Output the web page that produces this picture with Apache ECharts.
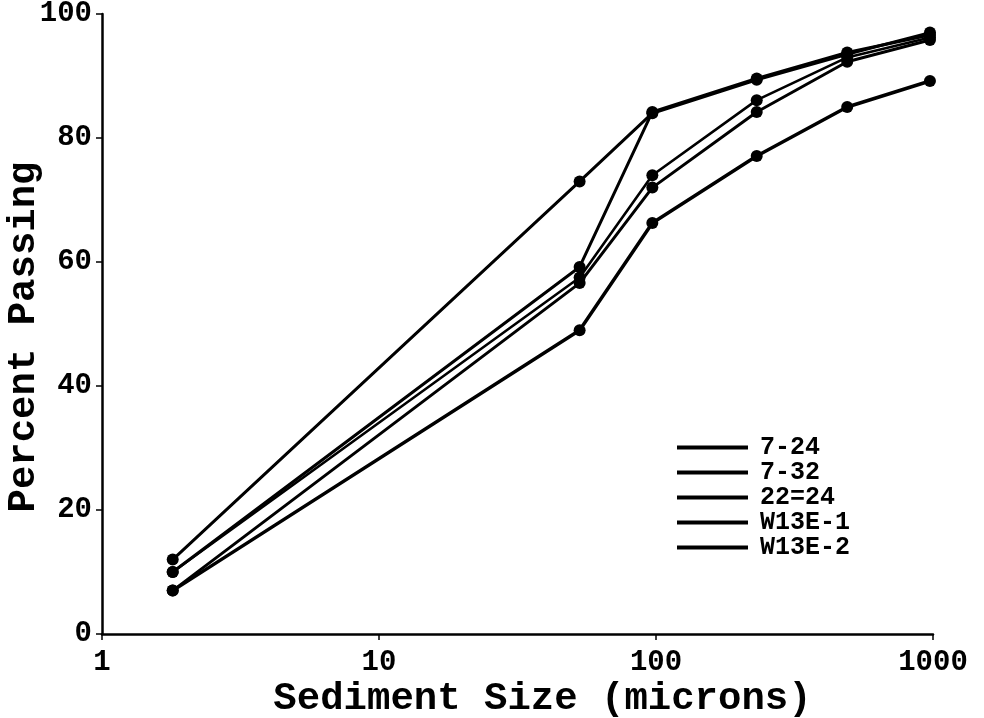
<!DOCTYPE html>
<html>
<head>
<meta charset="utf-8">
<script src="https://cdn.jsdelivr.net/npm/echarts@6/dist/echarts.min.js"></script>
<style>
html,body{margin:0;padding:0;background:#fff;}
#chart{width:984px;height:718px;}
</style>
</head>
<body>
<div id="chart"></div>
<script>
// Sediment sizes (microns) at which percent passing was measured
const sizes = [1.8, 53, 97, 231, 490, 975];
// Percent passing for each sample
const s7_24  = [12, 73, 84, 89.4, 93.5, 97];
const s7_32  = [7, 49, 66.3, 77.1, 85, 89.2];
const s22_24 = [10, 59.2, 84.2, 89.6, 93.8, 96.6];
const sW13E1 = [10, 57.5, 74, 86.1, 93, 96.2];
const sW13E2 = [7, 56.6, 72, 84.2, 92.3, 95.8];
const seriesNames = ['7-24', '7-32', '22=24', 'W13E-1', 'W13E-2'];
const seriesValues = [s7_24, s7_32, s22_24, sW13E1, sW13E2];
const lineWidths = [3, 3.5, 3, 2.6, 3];

const FONT = '"Liberation Mono", "DejaVu Sans Mono", monospace';

const chart = echarts.init(document.getElementById('chart'));
chart.setOption({
  backgroundColor: '#fff',
  animation: false,
  grid: {left: 102, right: 51, top: 14, bottom: 84, containLabel: false, outerBoundsMode: 'none'},
  legend: {
    orient: 'vertical',
    left: 677,
    top: 435,
    padding: 0,
    icon: 'rect',
    itemWidth: 71,
    itemHeight: 4,
    itemGap: 0,
    data: seriesNames,
    textStyle: {
      fontFamily: FONT, fontWeight: 'bold', fontSize: 25, color: '#000',
      lineHeight: 25, padding: [0, 0, 0, 7]
    },
    selectedMode: false
  },
  xAxis: {
    type: 'log',
    logBase: 10,
    min: 1,
    max: 1000,
    name: 'Sediment Size (microns)',
    nameLocation: 'middle',
    nameGap: 46,
    nameMoveOverlap: false,
    nameTextStyle: {fontFamily: FONT, fontWeight: 'bold', fontSize: 39, color: '#000', padding: [0, 0, 0, 50]},
    axisLine: {lineStyle: {color: '#000', width: 2.5}},
    axisTick: {show: true, length: 6, lineStyle: {color: '#000', width: 1.5}},
    minorTick: {show: false},
    splitLine: {show: false},
    axisLabel: {fontFamily: FONT, fontWeight: 'bold', fontSize: 29, color: '#000', margin: 14,
      formatter: v => String(Math.round(v))}
  },
  yAxis: {
    type: 'value',
    min: 0,
    max: 100,
    interval: 20,
    name: 'Percent Passing',
    nameLocation: 'middle',
    nameGap: 58,
    nameMoveOverlap: false,
    nameTextStyle: {fontFamily: FONT, fontWeight: 'bold', fontSize: 39, color: '#000', padding: [0, 26, 0, 0]},
    axisLine: {show: true, lineStyle: {color: '#000', width: 2.5}},
    axisTick: {show: true, length: 6, lineStyle: {color: '#000', width: 1.5}},
    splitLine: {show: false},
    axisLabel: {fontFamily: FONT, fontWeight: 'bold', fontSize: 29, color: '#000', margin: 10, padding: [8, 0, 0, 0]}
  },
  series: seriesNames.map((name, i) => ({
    name: name,
    type: 'line',
    data: sizes.map((x, j) => [x, seriesValues[i][j]]),
    symbol: 'circle',
    symbolSize: 12,
    lineStyle: {color: '#000', width: lineWidths[i]},
    itemStyle: {color: '#000'},
    emphasis: {disabled: true}
  }))
});
</script>
</body>
</html>
